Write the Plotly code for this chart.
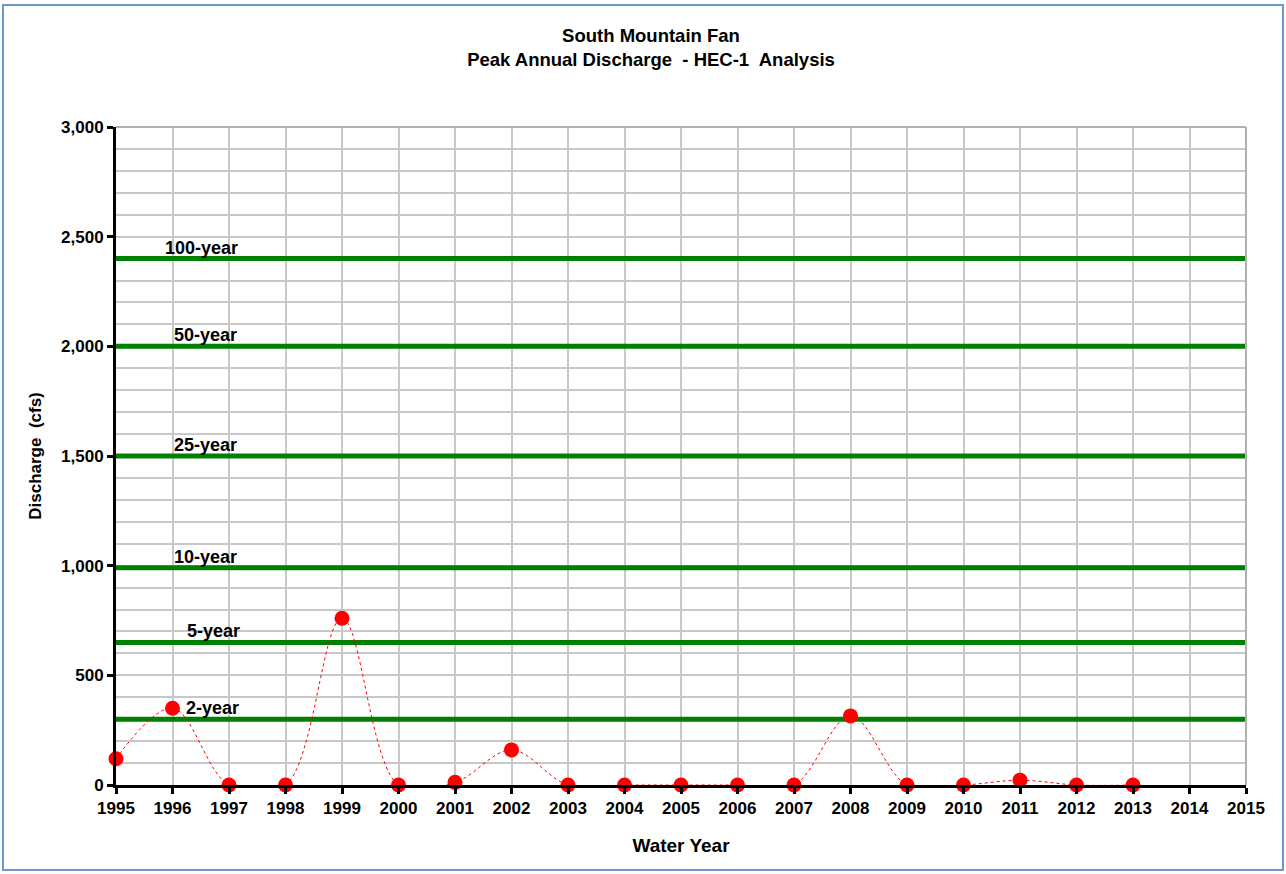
import plotly.graph_objects as go

years = list(range(1995, 2014))
discharge = [120, 350, 0, 0, 760, 0, 12, 160, 0, 0, 0, 0, 0, 315, 0, 0, 22, 0, 0]

return_labels = ["100-year", "50-year", "25-year", "10-year", "5-year", "2-year"]
return_values = [2400, 2000, 1500, 990, 650, 300]
label_x = [1996.51, 1996.58, 1996.58, 1996.58, 1996.72, 1996.71]

W, H = 1286, 874
ML, MR, MT, MB = 116, 40, 127, 89
pw, ph = W - ML - MR, H - MT - MB

FONT = "Liberation Sans, Arial, sans-serif"

fig = go.Figure()

for lab, val in zip(return_labels, return_values):
    fig.add_trace(go.Scatter(x=[1995, 2015], y=[val, val], mode="lines",
                             line=dict(color="#008000", width=5),
                             showlegend=False, hoverinfo="skip"))

fig.add_trace(go.Scatter(x=years, y=discharge, mode="lines+markers",
                         line=dict(color="#ff0000", width=1, dash="dot", shape="spline"),
                         marker=dict(color="#ff0000", size=15),
                         showlegend=False, cliponaxis=False))

for lab, val, lx in zip(return_labels, return_values, label_x):
    fig.add_annotation(x=lx, y=val, text="<b>%s</b>" % lab, showarrow=False,
                       yanchor="bottom", yshift=-1, xanchor="center",
                       font=dict(family=FONT, size=18, color="#000000"))


def px_to_paper_x(p):
    return (p - ML) / pw


def px_to_paper_y(p):
    return (H - MB - p) / ph


# outer border
fig.add_shape(type="rect", xref="paper", yref="paper",
              x0=px_to_paper_x(3), x1=px_to_paper_x(1283),
              y0=px_to_paper_y(870), y1=px_to_paper_y(5),
              line=dict(color="#6f97cf", width=2), layer="below")
# plot-area top/right border
fig.add_shape(type="line", xref="paper", yref="paper", x0=0, x1=1, y0=1, y1=1,
              line=dict(color="#b0b0b0", width=2))
fig.add_shape(type="line", xref="paper", yref="paper", x0=1, x1=1, y0=0, y1=1,
              line=dict(color="#b0b0b0", width=2))

fig.update_layout(
    width=W, height=H,
    margin=dict(l=ML, r=MR, t=MT, b=MB),
    paper_bgcolor="white", plot_bgcolor="white",
    font=dict(family=FONT, color="#000000"),
    title=dict(text="<b>South Mountain Fan<br>Peak Annual Discharge  - HEC-1  Analysis</b>",
               x=651 / W, xanchor="center", y=1 - 42 / H, yanchor="top",
               font=dict(family=FONT, size=18.5, color="#000000")),
    xaxis=dict(range=[1995, 2015], tickmode="linear", tick0=1995, dtick=1,
               showgrid=True, gridcolor="#c8c8c8", gridwidth=2,
               showline=True, linecolor="#000000", linewidth=3,
               ticks="outside", ticklen=6, tickwidth=3, tickcolor="#000000",
               tickfont=dict(family=FONT, size=17, color="#000000", weight="bold"),
               title=dict(text="<b>Water Year</b>", standoff=22,
                          font=dict(family=FONT, size=19, color="#000000")),
               zeroline=False, fixedrange=True),
    yaxis=dict(range=[0, 3000], tickmode="linear", tick0=0, dtick=500,
               tickformat=",",
               showgrid=True, gridcolor="#c8c8c8", gridwidth=2,
               minor=dict(dtick=100, showgrid=True, gridcolor="#c8c8c8", gridwidth=2),
               showline=True, linecolor="#000000", linewidth=3,
               ticks="outside", ticklen=6, tickwidth=3, tickcolor="#000000",
               tickfont=dict(family=FONT, size=17, color="#000000", weight="bold"),
               title=dict(text="<b>Discharge  (cfs)</b>", standoff=16,
                          font=dict(family=FONT, size=17, color="#000000")),
               zeroline=False, fixedrange=True),
)

fig.write_html("out.html",
               config={"displayModeBar": False},
               post_script="document.body.style.margin='0';document.body.style.overflow='hidden';")
